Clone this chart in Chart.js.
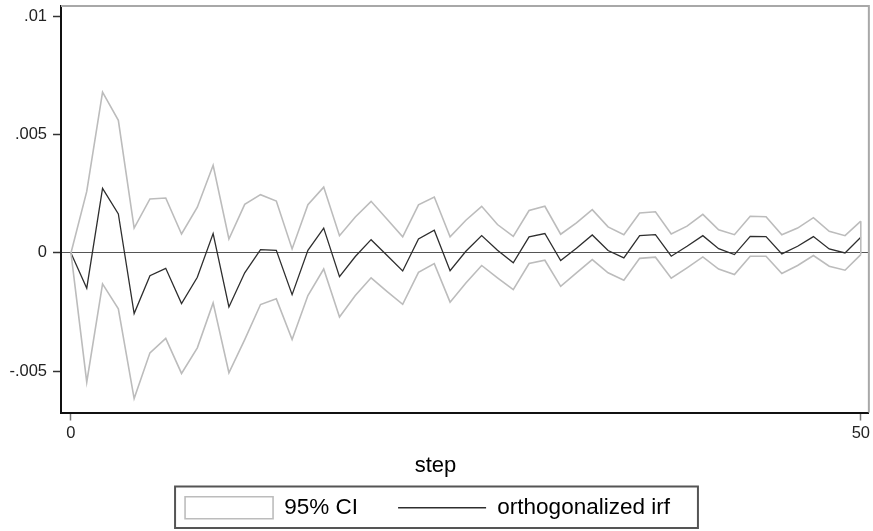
<!DOCTYPE html>
<html>
<head>
<meta charset="utf-8">
<script src="https://cdn.jsdelivr.net/npm/chart.js@4.4.1/dist/chart.umd.min.js"></script>
<style>
  html, body { margin: 0; padding: 0; background: #fff; }
  #wrap { width: 873px; height: 531px; position: relative; }
</style>
</head>
<body>
<div id="wrap"><canvas id="c" width="873" height="531"></canvas></div>
<script>
const steps = [0,1,2,3,4,5,6,7,8,9,10,11,12,13,14,15,16,17,18,19,20,21,22,23,24,25,26,27,28,29,30,31,32,33,34,35,36,37,38,39,40,41,42,43,44,45,46,47,48,49,50];

const irf = [0, -0.00149, 0.00273, 0.00165, -0.00256, -0.00096, -0.00065, -0.00214, -0.00103, 0.00082,
  -0.00228, -0.00084, 0.00014, 0.00011, -0.00176, 0.00011, 0.00105, -0.00100, -0.00015, 0.00056,
  -0.00010, -0.00076, 0.00059, 0.00096, -0.00075, 0.00007, 0.00073, 0.00011, -0.00042, 0.00068,
  0.00082, -0.00032, 0.00020, 0.00076, 0.00010, -0.00021, 0.00073, 0.00077, -0.00014, 0.00028,
  0.00073, 0.00018, -0.00007, 0.00070, 0.00069, -0.00004, 0.00028, 0.00069, 0.00017, 0.00000, 0.00066];

const ciUpper = [0, 0.00260, 0.00679, 0.00560, 0.00105, 0.00228, 0.00232, 0.00080, 0.00193, 0.00370,
  0.00059, 0.00205, 0.00246, 0.00219, 0.00017, 0.00204, 0.00278, 0.00073, 0.00152, 0.00218,
  0.00143, 0.00068, 0.00203, 0.00236, 0.00068, 0.00138, 0.00197, 0.00120, 0.00070, 0.00179,
  0.00197, 0.00079, 0.00127, 0.00183, 0.00110, 0.00077, 0.00169, 0.00174, 0.00080, 0.00113,
  0.00163, 0.00098, 0.00077, 0.00155, 0.00153, 0.00077, 0.00105, 0.00149, 0.00091, 0.00073, 0.00134];

const ciLower = [0, -0.00546, -0.00131, -0.00236, -0.00615, -0.00422, -0.00361, -0.00509, -0.00401, -0.00211,
  -0.00506, -0.00366, -0.00218, -0.00194, -0.00366, -0.00180, -0.00068, -0.00271, -0.00180, -0.00105,
  -0.00162, -0.00217, -0.00082, -0.00045, -0.00208, -0.00127, -0.00053, -0.00105, -0.00155, -0.00045,
  -0.00031, -0.00141, -0.00084, -0.00028, -0.00084, -0.00115, -0.00023, -0.00018, -0.00107, -0.00063,
  -0.00017, -0.00068, -0.00091, -0.00014, -0.00014, -0.00087, -0.00053, -0.00011, -0.00056, -0.00073, -0.00007];

const xTickValues = [0, 50];
const xTickLabels = ['0', '50'];
const yTickValues = [-0.005, 0, 0.005, 0.01];
const yTickLabels = ['-.005', '0', '.005', '.01'];

const seriesNames = ['95% CI', 'orthogonalized irf'];

const FONT = '"Liberation Sans", Arial, Helvetica, sans-serif';
const CI_COLOR = '#bcbcbc';
const IRF_COLOR = '#2e2e2e';
const LEGEND_PAD = 40;
const LEGEND_FONT = 22.5;
const LEGEND_BOX_H = 22;

const toXY = (arr) => steps.map((s, i) => ({ x: s, y: arr[i] }));
const last = steps.length - 1;

const framePlugin = {
  id: 'frame',
  beforeDraw(chart) {
    const lg = chart.legend;
    if (lg && !lg._shifted) {
      lg.left -= 8; lg.right -= 8;
      lg._shifted = true;
    }
  },
  beforeDatasetsDraw(chart) {
    const { ctx, chartArea: a } = chart;
    ctx.save();
    ctx.strokeStyle = '#a8a8a8';
    ctx.lineWidth = 2;
    ctx.beginPath();
    ctx.moveTo(a.left, a.top);
    ctx.lineTo(a.right, a.top);
    ctx.lineTo(a.right, a.bottom);
    ctx.stroke();
    ctx.restore();
  },
  afterDraw(chart) {
    const lg = chart.legend;
    if (!lg || !lg.lineWidths) return;
    const lw = lg.lineWidths[0];
    const start = (lg.left + LEGEND_PAD + lg.right - lw) / 2;
    const end = start + lw - LEGEND_PAD;
    const itemH = Math.max(LEGEND_FONT, LEGEND_BOX_H);
    const top = lg.top + LEGEND_PAD;
    const x0 = start - 10, x1 = end + 28;
    const y0 = top - 10, y1 = top + itemH + 9;
    const ctx = chart.ctx;
    ctx.save();
    ctx.strokeStyle = '#555';
    ctx.lineWidth = 2;
    ctx.strokeRect(x0, y0, x1 - x0, y1 - y0);
    ctx.restore();
  }
};

new Chart(document.getElementById('c'), {
  type: 'line',
  data: {
    datasets: [
      { label: 'upper', data: toXY(ciUpper), borderColor: CI_COLOR, borderWidth: 1.6, pointRadius: 0, tension: 0, fill: false },
      { label: 'lower', data: toXY(ciLower), borderColor: CI_COLOR, borderWidth: 1.6, pointRadius: 0, tension: 0, fill: false },
      { label: 'edge', data: [{ x: steps[last], y: ciLower[last] }, { x: steps[last], y: ciUpper[last] }], borderColor: CI_COLOR, borderWidth: 1.6, pointRadius: 0, fill: false },
      { label: 'irf', data: toXY(irf), borderColor: IRF_COLOR, borderWidth: 1.3, pointRadius: 0, tension: 0, fill: false }
    ]
  },
  options: {
    responsive: false,
    animation: false,
    events: [],
    layout: { padding: { top: 6, right: 2, bottom: 2, left: 0 } },
    scales: {
      x: {
        type: 'linear',
        min: -0.63,
        max: 50.51,
        afterBuildTicks(scale) { scale.ticks = xTickValues.map(v => ({ value: v })); },
        afterFit(scale) { scale.height = 34; },
        ticks: {
          callback(v) { const i = xTickValues.indexOf(v); return i >= 0 ? xTickLabels[i] : ''; },
          font: { family: FONT, size: 16.5 },
          color: '#222',
          padding: 3,
          maxRotation: 0,
          autoSkip: false
        },
        grid: { drawOnChartArea: false, drawTicks: true, tickLength: 8, tickColor: '#777', tickWidth: 1.5 },
        border: { display: true, color: '#111', width: 2 }
      },
      y: {
        type: 'linear',
        min: -0.00674,
        max: 0.01043,
        afterBuildTicks(scale) { scale.ticks = yTickValues.map(v => ({ value: v })); },
        afterFit(scale) { scale.width = 61; scale.paddingTop = 0; scale.paddingBottom = 0; },
        ticks: {
          callback(v) { const i = yTickValues.indexOf(v); return i >= 0 ? yTickLabels[i] : ''; },
          font: { family: FONT, size: 16.5 },
          color: '#222',
          padding: 6,
          autoSkip: false
        },
        grid: {
          drawOnChartArea: true,
          drawTicks: true,
          tickLength: 8,
          tickColor: '#333',
          tickWidth: 1.5,
          color: (c) => (c.tick && c.tick.value === 0 ? '#555' : 'rgba(0,0,0,0)'),
          lineWidth: 1
        },
        border: { display: true, color: '#111', width: 2 }
      }
    },
    plugins: {
      title: {
        display: true,
        text: 'step',
        position: 'bottom',
        weight: 500,
        color: '#000',
        font: { family: FONT, size: 22, weight: 'normal', lineHeight: 1.2 },
        padding: { top: 5.8, bottom: -22.2 }
      },
      legend: {
        display: true,
        position: 'bottom',
        weight: 1000,
        labels: {
          usePointStyle: true,
          pointStyleWidth: 88,
          boxHeight: LEGEND_BOX_H,
          padding: LEGEND_PAD,
          color: '#000',
          font: { family: FONT, size: LEGEND_FONT },
          generateLabels() {
            return [
              { text: seriesNames[0], fillStyle: '#ffffff', strokeStyle: CI_COLOR, lineWidth: 1.6, pointStyle: 'rect', hidden: false, datasetIndex: 0, fontColor: '#000' },
              { text: seriesNames[1], fillStyle: IRF_COLOR, strokeStyle: IRF_COLOR, lineWidth: 1.5, pointStyle: 'line', hidden: false, datasetIndex: 3, fontColor: '#000' }
            ];
          }
        }
      },
      tooltip: { enabled: false }
    }
  },
  plugins: [framePlugin]
});
</script>
</body>
</html>
